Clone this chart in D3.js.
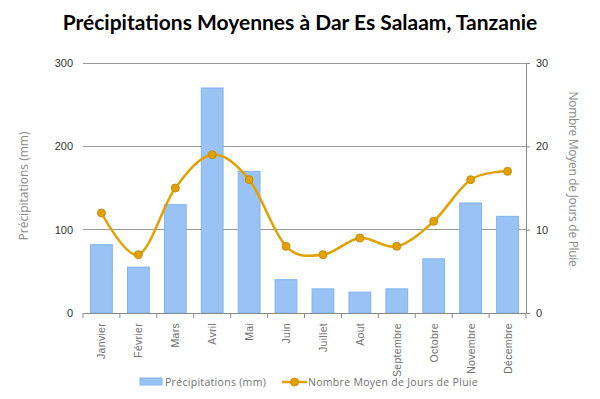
<!DOCTYPE html>
<html>
<head>
<meta charset="utf-8">
<script src="https://cdn.jsdelivr.net/npm/d3@7"></script>
<style>
  body { margin: 0; background: #fff; }
  svg { display: block; font-family: "Open Sans", sans-serif; }
</style>
</head>
<body>
<div id="chart"></div>
<script>
// Data
const months = ['Janvier', 'Février', 'Mars', 'Avril', 'Mai', 'Juin', 'Juillet', 'Aout', 'Septembre', 'Octobre', 'Novembre', 'Décembre']
const rainfall = [82, 55, 130, 270, 170, 40, 29, 25, 29, 65, 132, 116]
const rainDays = [12, 7, 15, 19, 16, 8, 7, 9, 8, 11, 16, 17]
const leftTicks = [0, 100, 200, 300]
const rightTicks = [0, 10, 20, 30]

// Dimensions
let dimensions = {
  width: 600,
  height: 399,
  margin: { top: 63, bottom: 86, left: 83, right: 74 }
}
dimensions.containerWidth = dimensions.width - dimensions.margin.left - dimensions.margin.right
dimensions.containerHeight = dimensions.height - dimensions.margin.top - dimensions.margin.bottom

const svg = d3.select('#chart')
  .append('svg')
  .attr('width', dimensions.width)
  .attr('height', dimensions.height)

const container = svg.append('g')
  .attr('transform', `translate(${dimensions.margin.left}, ${dimensions.margin.top})`)

// Scales
const xScale = d3.scaleBand()
  .domain(months)
  .range([0, dimensions.containerWidth])
  .paddingInner(0.41)
  .paddingOuter(0.205)

const yScale = d3.scaleLinear()
  .domain([0, 300])
  .range([dimensions.containerHeight, 0])

const y2Scale = d3.scaleLinear()
  .domain([0, 30])
  .range([dimensions.containerHeight, 0])

// Gridlines
container.append('g')
  .selectAll('line')
  .data(leftTicks.slice(1))
  .join('line')
  .attr('x1', 0)
  .attr('x2', dimensions.containerWidth)
  .attr('y1', d => yScale(d))
  .attr('y2', d => yScale(d))
  .attr('stroke', '#9a9a9a')
  .attr('stroke-width', 1)
  .attr('shape-rendering', 'crispEdges')

// Bars
container.append('g')
  .selectAll('rect')
  .data(rainfall)
  .join('rect')
  .attr('x', (d, i) => xScale(months[i]))
  .attr('y', d => yScale(d))
  .attr('width', xScale.bandwidth())
  .attr('height', d => dimensions.containerHeight - yScale(d))
  .attr('fill', '#99c3f5')
  .attr('stroke', '#80b3f0')
  .attr('stroke-width', 1)

// Line
const line = d3.line()
  .x((d, i) => xScale(months[i]) + xScale.bandwidth() / 2)
  .y(d => y2Scale(d))
  .curve(d3.curveCardinal.tension(0))

container.append('path')
  .datum(rainDays)
  .attr('d', line)
  .attr('fill', 'none')
  .attr('stroke', '#e3a100')
  .attr('stroke-width', 2.5)

container.append('g')
  .selectAll('circle')
  .data(rainDays)
  .join('circle')
  .attr('cx', (d, i) => xScale(months[i]) + xScale.bandwidth() / 2)
  .attr('cy', d => y2Scale(d))
  .attr('r', 4)
  .attr('fill', '#e3a100')
  .attr('stroke', '#c68d12')
  .attr('stroke-width', 1)

// Axes
const xAxis = d3.axisBottom(xScale).tickSize(5).tickSizeOuter(0).tickFormat('')
const xAxisGroup = container.append('g')
  .attr('transform', `translate(0, ${dimensions.containerHeight})`)
  .call(xAxis)
xAxisGroup.select('.domain').attr('stroke', '#8a8a8a')
xAxisGroup.selectAll('.tick line')
  .attr('stroke', '#8a8a8a')
  .attr('transform', `translate(${-xScale.step() / 2}, 0)`)
xAxisGroup.append('line')
  .attr('x1', dimensions.containerWidth).attr('x2', dimensions.containerWidth)
  .attr('y1', 0).attr('y2', 5)
  .attr('stroke', '#8a8a8a')

xAxisGroup.selectAll('.month')
  .data(months)
  .join('text')
  .attr('class', 'month')
  .attr('transform', d => `translate(${xScale(d) + xScale.bandwidth() / 2 + 4}, 10) rotate(-90)`)
  .attr('text-anchor', 'end')
  .attr('fill', '#707070')
  .style('font-size', '10.5px')
  .style('letter-spacing', '0.3px')
  .text(d => d)

const yAxisGroup = container.append('g')
  .call(d3.axisLeft(yScale).tickValues(leftTicks).tickSize(0).tickPadding(10))
yAxisGroup.select('.domain').remove()
yAxisGroup.selectAll('text')
  .attr('fill', '#333')
  .style('font-size', '11px')

const y2AxisGroup = container.append('g')
  .attr('transform', `translate(${dimensions.containerWidth}, 0)`)
  .call(d3.axisRight(y2Scale).tickValues(rightTicks).tickSize(4).tickPadding(6))
y2AxisGroup.selectAll('line, .domain').attr('stroke', '#8a8a8a')
y2AxisGroup.selectAll('text')
  .attr('fill', '#333')
  .style('font-size', '11px')

// Axis titles
container.append('text')
  .attr('transform', `translate(-55, ${dimensions.containerHeight / 2 - 2}) rotate(-90)`)
  .attr('text-anchor', 'middle')
  .attr('fill', '#8a8a8a')
  .style('font-size', '12px')
  .text('Précipitations (mm)')

container.append('text')
  .attr('transform', `translate(${dimensions.containerWidth + 43}, ${dimensions.containerHeight / 2 - 9}) rotate(90)`)
  .attr('text-anchor', 'middle')
  .attr('fill', '#8a8a8a')
  .style('font-size', '12px')
  .style('letter-spacing', '-0.3px')
  .text('Nombre Moyen de Jours de Pluie')

// Title
svg.append('text')
  .attr('x', 300)
  .attr('y', 30)
  .attr('text-anchor', 'middle')
  .attr('fill', '#000')
  .style('font-family', 'Lato, sans-serif')
  .style('font-weight', 'bold')
  .style('font-size', '21px')
  .text('Précipitations Moyennes à Dar Es Salaam, Tanzanie')

// Legend
const legend = svg.append('g').attr('transform', 'translate(140, 382)')
legend.append('rect')
  .attr('x', 0).attr('y', -4)
  .attr('width', 22).attr('height', 7)
  .attr('fill', '#99c3f5')
  .attr('stroke', '#80b3f0')
legend.append('text')
  .attr('x', 25).attr('y', 4)
  .attr('fill', '#707070')
  .style('font-size', '10.5px')
  .style('letter-spacing', '0.3px')
  .text('Précipitations (mm)')

legend.append('line')
  .attr('x1', 142).attr('x2', 167)
  .attr('y1', 0).attr('y2', 0)
  .attr('stroke', '#e3a100')
  .attr('stroke-width', 2.5)
legend.append('circle')
  .attr('cx', 154.5).attr('cy', 0).attr('r', 4)
  .attr('fill', '#e3a100')
  .attr('stroke', '#c68d12')
legend.append('text')
  .attr('x', 168).attr('y', 4)
  .attr('fill', '#707070')
  .style('font-size', '10.5px')
  .style('letter-spacing', '0.3px')
  .text('Nombre Moyen de Jours de Pluie')
</script>
</body>
</html>
